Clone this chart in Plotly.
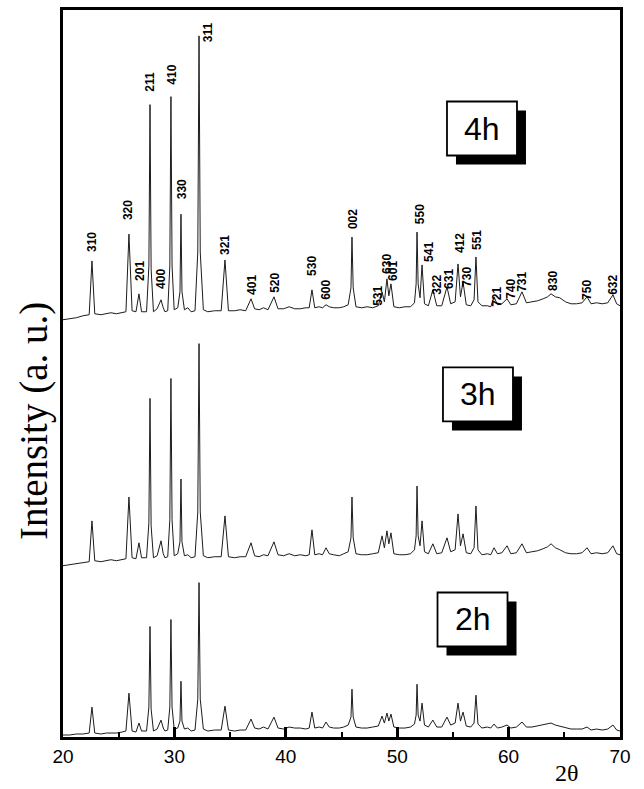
import plotly.graph_objects as go

# ---- XRD patterns (2θ in degrees, intensity in arbitrary units) ----
two_theta = [
    20.00, 20.60, 21.20, 21.80, 22.35, 22.60, 22.85, 23.40, 23.90, 24.30,
    24.80, 25.30, 25.65, 25.92, 26.20, 26.55, 26.82, 27.05, 27.50, 27.71,
    27.81, 27.91, 28.12, 28.45, 28.80, 29.00, 29.15, 29.40, 29.59, 29.69,
    29.79, 29.98, 30.30, 30.50, 30.59, 30.68, 30.90, 31.20, 31.50, 31.85,
    32.10, 32.21, 32.32, 32.60, 33.00, 33.60, 34.20, 34.54, 34.85, 35.40,
    35.90, 36.40, 36.88, 37.20, 37.60, 38.00, 38.40, 38.94, 39.30, 39.80,
    40.30, 40.80, 41.30, 41.80, 42.10, 42.35, 42.60, 43.00, 43.30, 43.61,
    43.90, 44.30, 44.80, 45.20, 45.60, 45.85, 45.94, 46.05, 46.30, 46.80,
    47.30, 47.80, 48.30, 48.64, 48.85, 49.08, 49.25, 49.44, 49.70, 50.20,
    50.70, 51.20, 51.55, 51.70, 51.78, 51.88, 52.05, 52.23, 52.45, 52.80,
    53.20, 53.55, 54.00, 54.47, 54.80, 55.20, 55.46, 55.68, 55.91, 56.20,
    56.60, 56.90, 57.07, 57.25, 57.60, 58.10, 58.40, 58.69, 59.00, 59.40,
    59.86, 60.20, 60.70, 61.20, 61.60, 62.10, 62.60, 63.10, 63.50, 63.81,
    64.20, 64.60, 65.10, 65.60, 66.10, 66.60, 67.04, 67.40, 67.90, 68.40,
    68.90, 69.37, 69.70, 70.00,
]

int_2h = [
    2, 2, 3, 3, 4, 30, 4, 3, 4, 4,
    4, 5, 6, 44, 6, 5, 14, 6, 6, 30,
    111, 28, 6, 8, 17, 9, 6, 7, 30, 118,
    30, 8, 9, 16, 56, 16, 8, 9, 6, 7,
    38, 155, 38, 8, 6, 7, 7, 31, 7, 6,
    7, 7, 18, 9, 8, 10, 8, 20, 9, 8,
    10, 9, 9, 8, 9, 25, 9, 10, 9, 15,
    10, 9, 9, 10, 12, 20, 48, 20, 10, 9,
    9, 10, 11, 21, 14, 24, 16, 23, 10, 9,
    9, 10, 13, 22, 53, 22, 16, 34, 12, 10,
    17, 10, 10, 20, 12, 14, 34, 16, 25, 11,
    10, 14, 42, 13, 9, 10, 9, 13, 9, 10,
    12, 9, 10, 15, 10, 10, 11, 12, 13, 14,
    12, 11, 9, 8, 8, 8, 10, 7, 8, 7,
    8, 12, 7, 6,
]

int_3h = [
    2, 3, 4, 5, 6, 47, 7, 6, 7, 8,
    7, 8, 9, 71, 10, 9, 25, 10, 10, 45,
    170, 42, 10, 12, 27, 14, 10, 11, 48, 190,
    48, 12, 14, 26, 89, 26, 12, 13, 10, 11,
    56, 225, 56, 12, 10, 11, 11, 52, 11, 10,
    11, 11, 25, 12, 11, 13, 12, 26, 13, 12,
    14, 12, 13, 12, 13, 38, 13, 14, 13, 20,
    14, 13, 12, 14, 16, 30, 71, 30, 14, 13,
    13, 14, 15, 32, 20, 37, 24, 35, 14, 13,
    13, 14, 18, 32, 82, 32, 22, 47, 16, 14,
    24, 14, 15, 30, 16, 18, 54, 22, 34, 15,
    14, 20, 62, 18, 13, 14, 13, 20, 14, 15,
    22, 14, 15, 24, 15, 16, 17, 19, 21, 24,
    20, 18, 15, 14, 14, 15, 20, 14, 15, 14,
    15, 22, 14, 13,
]

int_4h = [
    4, 5, 6, 8, 9, 63, 10, 9, 10, 11,
    10, 11, 12, 90, 13, 12, 30, 12, 12, 58,
    220, 55, 12, 15, 24, 16, 12, 13, 58, 228,
    58, 14, 16, 32, 110, 32, 14, 16, 12, 13,
    72, 289, 72, 14, 12, 13, 13, 64, 13, 13,
    14, 13, 25, 15, 14, 16, 14, 27, 15, 15,
    17, 15, 15, 16, 16, 34, 16, 17, 16, 19,
    17, 16, 16, 17, 19, 36, 87, 36, 17, 16,
    17, 16, 18, 32, 22, 45, 28, 40, 17, 16,
    17, 17, 21, 40, 92, 40, 26, 59, 20, 18,
    34, 18, 18, 37, 20, 22, 60, 27, 42, 19,
    18, 24, 67, 22, 18, 18, 17, 27, 19, 20,
    25, 19, 20, 32, 21, 22, 23, 25, 27, 30,
    27, 26, 22, 20, 20, 21, 27, 20, 21, 20,
    21, 29, 20, 18,
]

# vertical stacking of the three patterns
offset_2h = 0
offset_3h = 170
offset_4h = 415

# Miller indices marked on the 4h pattern (label centre 2θ, label height in 4h units)
hkl = ["310", "320", "201", "211", "400", "410", "330", "311", "321", "401",
       "520", "530", "600", "002", "531", "630", "601", "550", "541", "322",
       "631", "412", "730", "551", "721", "740", "731", "830", "750", "632"]
hkl_tt = [22.60, 25.83, 26.91, 27.81, 28.80, 29.78, 30.68, 33.05, 34.54, 36.97,
          39.03, 42.35, 43.61, 46.03, 48.28, 49.08, 49.62, 52.05, 52.85, 53.57,
          54.65, 55.64, 56.27, 57.16, 58.96, 60.22, 61.20, 63.99, 67.04, 69.37]
hkl_h = [82, 114, 53, 243, 45, 250, 135, 293, 79, 39,
         41, 58, 34, 105, 28, 60, 53, 110, 72, 39,
         45, 81, 47, 84, 27, 35, 42, 43, 34, 39]

sample_labels = ["2h", "3h", "4h"]
sample_box_tt = [56.76, 57.25, 57.61]
sample_box_y = [118, 344, 611]

fig = go.Figure()
for ints, off in ((int_2h, offset_2h), (int_3h, offset_3h), (int_4h, offset_4h)):
    fig.add_trace(go.Scatter(
        x=two_theta, y=[off + v for v in ints], mode="lines",
        line=dict(color="#1c1c1c", width=1), hoverinfo="skip", showlegend=False,
    ))

annotations = []
for t, xx, hh in zip(hkl, hkl_tt, hkl_h):
    annotations.append(dict(
        x=xx, y=offset_4h + hh, xref="x", yref="y", text=t, textangle=-90,
        showarrow=False, xanchor="center", yanchor="middle",
        font=dict(family="Liberation Sans", size=12, color="black", weight="bold"),
    ))

# sample boxes: black drop shadow, white framed box, then the label text
shapes = []
half_w, half_h, shadow = 35, 27, 9
for lab, xx, yy in zip(sample_labels, sample_box_tt, sample_box_y):
    box = dict(type="rect", xref="x", yref="y", xsizemode="pixel", ysizemode="pixel",
               xanchor=xx, yanchor=yy, layer="above")
    shapes.append(dict(box, x0=-half_w + shadow, x1=half_w + shadow,
                       y0=-half_h - shadow, y1=half_h - shadow,
                       fillcolor="black", line=dict(width=0)))
    shapes.append(dict(box, x0=-half_w, x1=half_w, y0=-half_h, y1=half_h,
                       fillcolor="white", line=dict(color="black", width=1.8)))
    annotations.append(dict(
        x=xx, y=yy, xref="x", yref="y", text=lab, showarrow=False,
        xanchor="center", yanchor="middle",
        font=dict(family="Liberation Sans", size=32, color="black"),
    ))

annotations.append(dict(
    text="Intensity (a. u.)", x=-0.051, y=0.434, xref="paper", yref="paper",
    textangle=-90, showarrow=False, xanchor="center", yanchor="middle",
    font=dict(family="Liberation Serif", size=39, color="black"),
))
annotations.append(dict(
    text="2θ", x=0.905, y=-0.0705, xref="paper", yref="paper",
    showarrow=False, xanchor="center", yanchor="bottom",
    font=dict(family="Liberation Serif", size=24, color="black"),
))

fig.update_layout(
    width=644, height=789,
    margin=dict(l=63, r=24, t=7, b=52),
    paper_bgcolor="white", plot_bgcolor="white",
    annotations=annotations,
    shapes=shapes,
    xaxis=dict(
        range=[20, 70], tickvals=[20, 30, 40, 50, 60, 70],
        ticks="inside", ticklen=10, tickwidth=3, tickcolor="black",
        minor=dict(tickvals=[25, 35, 45, 55, 65], ticks="inside",
                   ticklen=5, tickwidth=2, tickcolor="black"),
        showline=True, linewidth=3, linecolor="black", mirror=True,
        showgrid=False, zeroline=False,
        tickfont=dict(family="Liberation Sans", size=19, color="black"),
    ),
    yaxis=dict(
        range=[0, 730], showticklabels=False, ticks="",
        showline=True, linewidth=3, linecolor="black", mirror=True,
        showgrid=False, zeroline=False,
    ),
)

fig.write_html("out.html")
